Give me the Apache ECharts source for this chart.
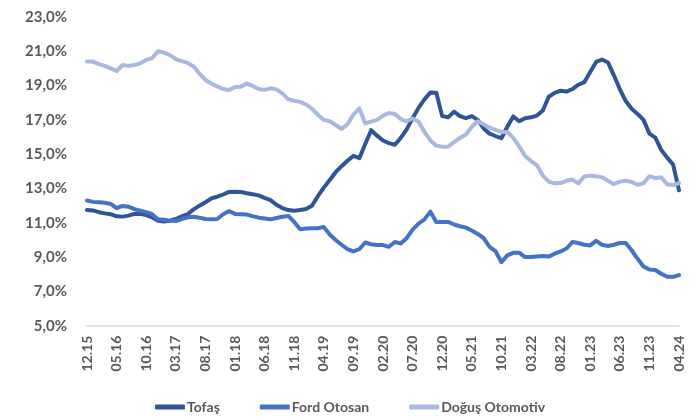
<!DOCTYPE html>
<html><head><meta charset="utf-8">
<script src="https://cdn.jsdelivr.net/npm/echarts@6/dist/echarts.min.js"></script>
<style>html,body{margin:0;padding:0;background:#fff}#c{width:700px;height:420px}</style>
</head><body><div id="c"></div>
<script>
const categories = [
"12.15",
"01.16","02.16","03.16","04.16","05.16","06.16","07.16","08.16","09.16","10.16","11.16","12.16",
"01.17","02.17","03.17","04.17","05.17","06.17","07.17","08.17","09.17","10.17","11.17","12.17",
"01.18","02.18","03.18","04.18","05.18","06.18","07.18","08.18","09.18","10.18","11.18","12.18",
"01.19","02.19","03.19","04.19","05.19","06.19","07.19","08.19","09.19","10.19","11.19","12.19",
"01.20","02.20","03.20","04.20","05.20","06.20","07.20","08.20","09.20","10.20","11.20","12.20",
"01.21","02.21","03.21","04.21","05.21","06.21","07.21","08.21","09.21","10.21","11.21","12.21",
"01.22","02.22","03.22","04.22","05.22","06.22","07.22","08.22","09.22","10.22","11.22","12.22",
"01.23","02.23","03.23","04.23","05.23","06.23","07.23","08.23","09.23","10.23","11.23","12.23",
"01.24","02.24","03.24","04.24"];

const tofas = [
11.75,11.72,11.62,11.55,11.5,11.38,11.36,11.42,11.52,11.52,
11.45,11.32,11.12,11.08,11.12,11.22,11.38,11.5,11.78,12.0,
12.2,12.42,12.52,12.65,12.8,12.81,12.8,12.72,12.66,12.6,
12.45,12.32,12.05,11.86,11.74,11.7,11.75,11.8,12.0,12.55,
13.05,13.5,13.95,14.3,14.62,14.9,14.77,15.6,16.4,16.08,
15.8,15.65,15.55,15.95,16.45,17.1,17.7,18.2,18.6,18.58,
17.22,17.15,17.48,17.22,17.1,17.22,17.0,16.5,16.2,16.06,
15.93,16.6,17.2,16.92,17.1,17.15,17.25,17.55,18.35,18.58,
18.7,18.65,18.8,19.05,19.2,19.8,20.38,20.52,20.35,19.6,
18.8,18.1,17.65,17.35,17.0,16.2,15.97,15.25,14.8,14.4,
12.9];

const fordOtosan = [
12.3,12.22,12.2,12.17,12.1,11.85,11.98,11.94,11.8,11.7,
11.62,11.5,11.2,11.18,11.12,11.1,11.22,11.32,11.35,11.3,
11.22,11.2,11.22,11.5,11.68,11.52,11.5,11.48,11.38,11.3,
11.25,11.2,11.28,11.35,11.4,11.05,10.62,10.67,10.68,10.68,
10.76,10.32,10.0,9.72,9.47,9.33,9.46,9.85,9.75,9.7,
9.7,9.6,9.88,9.8,10.1,10.6,10.95,11.2,11.65,11.05,
11.05,11.05,10.9,10.8,10.72,10.55,10.35,10.1,9.6,9.35,
8.7,9.1,9.25,9.26,9.0,9.0,9.04,9.06,9.03,9.2,
9.33,9.5,9.88,9.82,9.72,9.68,9.95,9.72,9.65,9.72,
9.82,9.82,9.4,8.9,8.45,8.28,8.25,8.03,7.85,7.85,
7.95];

const dogus = [
20.4,20.4,20.25,20.15,20.0,19.85,20.2,20.15,20.2,20.3,
20.5,20.6,21.0,20.92,20.78,20.55,20.43,20.32,20.12,19.7,
19.33,19.12,18.95,18.8,18.74,18.92,18.94,19.12,18.98,18.8,
18.75,18.84,18.78,18.55,18.2,18.12,18.05,17.9,17.65,17.3,
17.0,16.92,16.7,16.47,16.75,17.3,17.67,16.8,16.9,17.0,
17.25,17.4,17.35,17.05,16.92,17.08,16.9,16.3,15.8,15.5,
15.44,15.44,15.7,15.95,16.15,16.6,16.92,16.75,16.55,16.42,
16.3,16.3,15.95,15.45,14.9,14.6,14.35,13.75,13.4,13.3,
13.32,13.45,13.52,13.3,13.7,13.75,13.72,13.65,13.45,13.25,
13.4,13.45,13.38,13.22,13.3,13.72,13.6,13.65,13.25,13.2,
13.32];

const seriesNames = ["Tofaş","Ford Otosan","Doğuş Otomotiv"];
const colors = ["#2F5597","#4472C4","#A9B8DE"];

const FONT = "Lato";
const chart = echarts.init(document.getElementById('c'), null, {renderer:'canvas'});
const mk = (name, data, color) => ({
  name, type:'line', data, symbol:'none', smooth:false,
  lineStyle:{color, width:4, cap:'round', join:'round'},
  itemStyle:{color}
});
chart.setOption({
  animation:false,
  textStyle:{fontFamily:FONT},
  grid:{left:87, right:21, top:17, bottom:94.3, containLabel:false},
  xAxis:{
    type:'category', data:categories, boundaryGap:false,
    axisLine:{lineStyle:{color:'#D9D9D9', width:1.5}},
    axisTick:{show:false},
    axisLabel:{interval:4, rotate:90, margin:10, color:'#595959', fontWeight:'bold', fontSize:14, fontFamily:FONT}
  },
  yAxis:{
    type:'value', min:5, max:23, interval:2,
    axisLine:{show:false}, axisTick:{show:false}, splitLine:{show:false},
    axisLabel:{margin:20, color:'#595959', fontWeight:'bold', fontSize:15, fontFamily:FONT,
      formatter:v=>v.toFixed(1).replace('.',',')+'%'}
  },
  legend:{
    bottom:1, left:'center', icon:'roundRect', itemWidth:30, itemHeight:5, itemGap:40,
    textStyle:{color:'#595959', fontWeight:'bold', fontSize:14, fontFamily:FONT, padding:[0,0,0,-3]},
    data:seriesNames
  },
  series:[mk(seriesNames[0], tofas, colors[0]), mk(seriesNames[1], fordOtosan, colors[1]), mk(seriesNames[2], dogus, colors[2])]
});
</script></body></html>
